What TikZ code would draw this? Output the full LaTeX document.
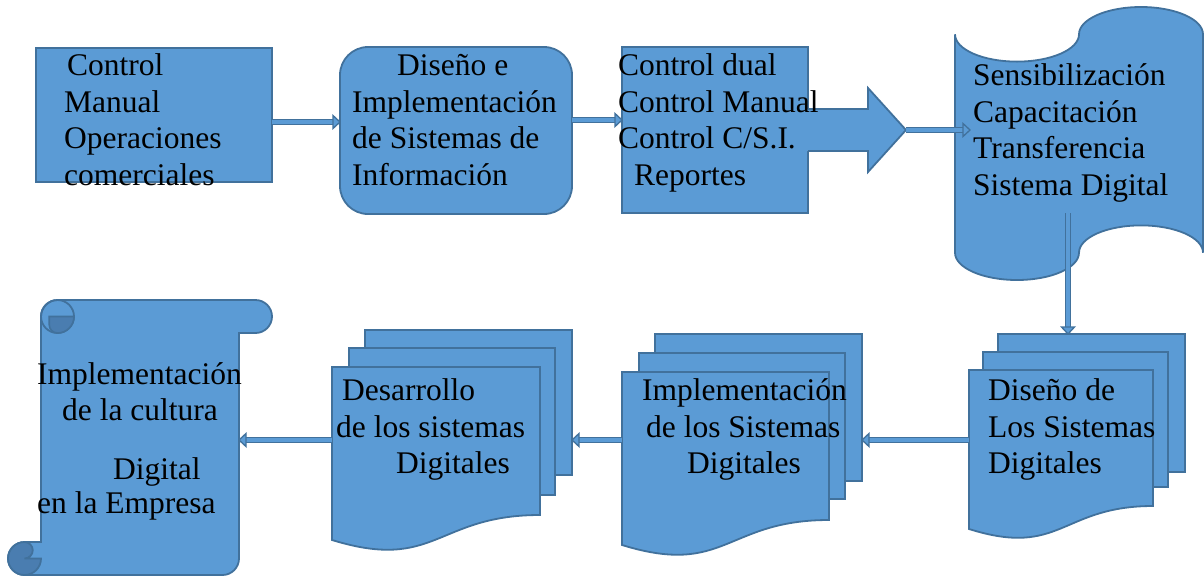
\documentclass[tikz,border=0pt]{standalone}
\usepackage{fontspec}
\setmainfont{Liberation Serif}
\usetikzlibrary{decorations.markings}
\definecolor{fillc}{HTML}{5B9BD5}
\definecolor{edgec}{HTML}{41719C}
\definecolor{darkc}{HTML}{4A7DB0}
\begin{document}
\begin{tikzpicture}[x=1pt,y=-1pt,
  shapeb/.style={draw=edgec, fill=fillc, line width=1.8pt},
  boxn/.style={shapeb, rectangle, inner sep=0pt, outer sep=0pt},
  ghost/.style={rectangle, inner sep=0pt, outer sep=0pt},
  txt/.style={anchor=base west, inner sep=0pt, font=\fontsize{31.5}{36}\selectfont},
  conn/.style={postaction={draw=edgec, line width=1.5pt, double=fillc, double distance=3.8pt, shorten >=5pt},
    postaction={decorate, decoration={markings, mark=at position 1 with {\filldraw[fill=fillc, draw=edgec, line width=1.3pt, line join=miter] (0pt,0pt) -- (-7pt,6.5pt) -- (-7pt,-6.5pt) -- cycle;}}}}
]
\useasboundingbox (0,0) rectangle (1204,579);

% top row boxes
\node[boxn, minimum width=236pt, minimum height=134pt] (b1) at (154,115) {};
\node[boxn, rounded corners=28pt, minimum width=232pt, minimum height=167pt] (b2) at (456,130.5) {};
\node[boxn, minimum width=186pt, minimum height=166pt] (b3) at (715,130) {};

% big block arrow
\fill[fillc] (806,109) -- (868,109) -- (868,88) -- (906,130) -- (868,172) -- (868,151) -- (806,151) -- cycle;
\draw[draw=edgec, line width=1.8pt, line join=miter] (808,109) -- (868,109) -- (868,88) -- (906,130) -- (868,172) -- (868,151) -- (808,151);
\coordinate (bigtip) at (906,130);

% punched tape
\draw[shapeb] (955,34.3) .. controls (955,49.4) and (982.8,61.6) .. (1017,61.6)
  .. controls (1051.2,61.6) and (1079,49.4) .. (1079,34.3)
  .. controls (1079,19.2) and (1106.8,7) .. (1141,7)
  .. controls (1175.2,7) and (1203,19.2) .. (1203,34.3)
  -- (1203,252.7)
  .. controls (1203,237.6) and (1175.2,225.4) .. (1141,225.4)
  .. controls (1106.8,225.4) and (1079,237.6) .. (1079,252.7)
  .. controls (1079,267.8) and (1051.2,280) .. (1017,280)
  .. controls (982.8,280) and (955,267.8) .. (955,252.7) -- cycle;
\coordinate (tapein) at (970,130);
\coordinate (tapeout) at (1068,213);

% multidocument 1
\node[boxn, minimum width=187pt, minimum height=138pt] (d1back) at (1091.5,403) {};
\node[boxn, minimum width=185pt, minimum height=135pt] (d1mid) at (1075.5,419.5) {};
\draw[shapeb] (969,370) -- (1153,370) -- (1153,506) .. controls (1061,506) and (1061,558) .. (969,529) -- cycle;
\node[ghost, minimum width=184pt, minimum height=159pt] (d1) at (1061,449.5) {};

% multidocument 2
\node[boxn, minimum width=207pt, minimum height=147pt] (d2back) at (758.5,407.5) {};
\node[boxn, minimum width=206pt, minimum height=146pt] (d2mid) at (742,426) {};
\draw[shapeb] (622,372) -- (829,372) -- (829,520) .. controls (725.5,520) and (725.5,577) .. (622,545) -- cycle;
\node[ghost, minimum width=207pt, minimum height=173pt] (d2) at (725.5,458.5) {};

% multidocument 3
\node[boxn, minimum width=207pt, minimum height=145pt] (d3back) at (468.5,402.5) {};
\node[boxn, minimum width=206pt, minimum height=147pt] (d3mid) at (452,421.5) {};
\draw[shapeb] (332,367) -- (540,367) -- (540,515) .. controls (436,515) and (436,572) .. (332,540) -- cycle;
\node[ghost, minimum width=208pt, minimum height=173pt] (d3) at (436,453.5) {};

% vertical scroll
\draw[shapeb] (41,542) -- (41,316.5) arc[start angle=180, end angle=270, radius=16.5]
  -- (255.5,300) arc[start angle=270, end angle=450, radius=16.5]
  -- (239,333) -- (239,558.5) arc[start angle=0, end angle=90, radius=16.5]
  -- (24.5,575) arc[start angle=90, end angle=270, radius=16.5] -- cycle;
\draw[draw=edgec, line width=1.8pt] (57.5,316.5) circle[radius=16.5];
\filldraw[fill=darkc, draw=edgec, line width=1.6pt] (74,316.5) arc[start angle=0, end angle=90, radius=16.5] arc[start angle=90, end angle=180, radius=8.25] -- (49.25,316.5) -- cycle;
\filldraw[fill=darkc, draw=edgec, line width=1.8pt] (41,558.5) arc[start angle=0, end angle=270, radius=16.5] arc[start angle=270, end angle=450, radius=8.25] -- cycle;
\node[ghost, minimum width=198pt, minimum height=275pt] (scroll) at (140,437.5) {};

% connectors
\path[conn] (b1.east |- 0,122) -- (b2.west |- 0,122);
\path[conn] (b2.east |- 0,120) -- (b3.west |- 0,120);
\path[conn] (bigtip) -- (tapein);
\path[conn] (tapeout) -- (tapeout |- d1back.north);
\path[conn] (d1.west |- 0,440) -- (d2back.east |- 0,440);
\path[conn] (d2.west |- 0,440) -- (d3back.east |- 0,440);
\path[conn] (d3.west |- 0,440) -- (scroll.east |- 0,440);

% texts
\node[txt] (t11) at (67,75) {Control};
\node[txt] (t12) at (64,112) {Manual};
\node[txt] (t13) at (64,148) {Operaciones};
\node[txt] (t14) at (64,185) {comerciales};
\node[txt] (t21) at (397,75) {Diseño e};
\node[txt] (t22) at (352,112) {Implementación};
\node[txt] (t23) at (352,148) {de Sistemas de};
\node[txt] (t24) at (352,185) {Información};
\node[txt] (t31) at (618,75) {Control dual};
\node[txt] (t32) at (618,112) {Control Manual};
\node[txt] (t33) at (618,148) {Control C/S.I.};
\node[txt] (t34) at (634,185) {Reportes};
\node[txt] (t41) at (973,85) {Sensibilización};
\node[txt] (t42) at (973,122) {Capacitación};
\node[txt] (t43) at (973,158) {Transferencia};
\node[txt] (t44) at (973,195) {Sistema Digital};
\node[txt] (t51) at (988,400) {Diseño de};
\node[txt] (t52) at (988,437) {Los Sistemas};
\node[txt] (t53) at (988,473) {Digitales};
\node[txt] (t61) at (642,400) {Implementación};
\node[txt] (t62) at (646,437) {de los Sistemas};
\node[txt] (t63) at (687,473) {Digitales};
\node[txt] (t71) at (342,400) {Desarrollo};
\node[txt] (t72) at (336,437) {de los sistemas};
\node[txt] (t73) at (396,473) {Digitales};
\node[txt] (t81) at (37,384) {Implementación};
\node[txt] (t82) at (62,420) {de la cultura};
\node[txt] (t83) at (113,479) {Digital};
\node[txt] (t84) at (37,513) {en la Empresa};
\end{tikzpicture}
\end{document}
